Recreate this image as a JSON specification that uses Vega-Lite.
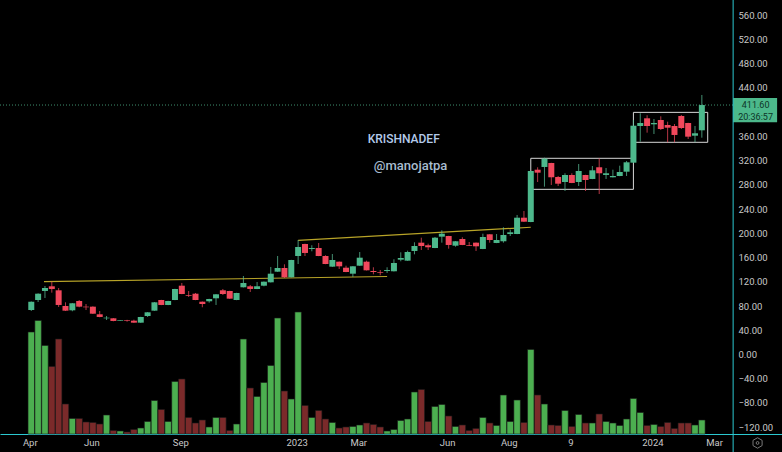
{"$schema":"https://vega.github.io/schema/vega-lite/v6.json","width":782,"height":434,"autosize":"none","padding":{"left":0,"top":0,"right":0,"bottom":18},"background":"#000000","config":{"view":{"stroke":null},"font":"Roboto"},
"datasets":{"w":[
{"date":"2022-04-04","open":73.4,"high":87.5,"low":71.8,"close":87.1,"vol":102},
{"date":"2022-04-11","open":89.9,"high":100.8,"low":86.6,"close":100.3,"vol":113.5},
{"date":"2022-04-18","open":104.8,"high":113,"low":93.2,"close":109.7,"vol":88.5},
{"date":"2022-04-25","open":112.5,"high":120.1,"low":102,"close":108.1,"vol":67.5},
{"date":"2022-05-02","open":105.9,"high":109.7,"low":78.4,"close":81.7,"vol":95},
{"date":"2022-05-09","open":80,"high":86.1,"low":71.8,"close":72.3,"vol":30},
{"date":"2022-05-16","open":72.9,"high":85,"low":71.3,"close":84.5,"vol":15.5},
{"date":"2022-05-23","open":88.3,"high":89.9,"low":77.9,"close":78.9,"vol":15.5},
{"date":"2022-05-30","open":78.9,"high":83.3,"low":73.4,"close":77.9,"vol":12},
{"date":"2022-06-06","open":78.9,"high":79.5,"low":66.8,"close":67.3,"vol":11.5},
{"date":"2022-06-13","open":66.3,"high":71.8,"low":61.4,"close":61.9,"vol":10},
{"date":"2022-06-20","open":59.7,"high":63.5,"low":56.9,"close":60.7,"vol":19},
{"date":"2022-06-27","open":59.7,"high":60.2,"low":54.8,"close":55.3,"vol":3.5},
{"date":"2022-07-04","open":55.8,"high":56.9,"low":55.8,"close":56.9,"vol":3},
{"date":"2022-07-11","open":56.9,"high":57.2,"low":54.1,"close":55.8,"vol":2},
{"date":"2022-07-18","open":55.8,"high":57.4,"low":52.2,"close":52.5,"vol":4.5},
{"date":"2022-07-25","open":52.5,"high":62.2,"low":52.2,"close":61.9,"vol":6},
{"date":"2022-08-01","open":63.5,"high":70,"low":61.9,"close":69.6,"vol":12.5},
{"date":"2022-08-08","open":72.3,"high":86.6,"low":72,"close":86.1,"vol":33.5},
{"date":"2022-08-15","open":89.9,"high":90.2,"low":81.4,"close":81.7,"vol":24.5},
{"date":"2022-08-22","open":81.7,"high":88.6,"low":81.4,"close":88.3,"vol":12.5},
{"date":"2022-08-29","open":89.9,"high":108.4,"low":89.6,"close":108.1,"vol":52.5},
{"date":"2022-09-05","open":113.5,"high":118,"low":99.5,"close":99.8,"vol":55},
{"date":"2022-09-12","open":97.7,"high":104.8,"low":94.9,"close":96.5,"vol":16.5},
{"date":"2022-09-19","open":100.3,"high":101.5,"low":89.6,"close":89.9,"vol":11},
{"date":"2022-09-26","open":87.1,"high":87.4,"low":77.9,"close":83.3,"vol":14},
{"date":"2022-10-03","open":87.8,"high":91.9,"low":85.5,"close":91.6,"vol":7},
{"date":"2022-10-10","open":92.7,"high":99.6,"low":81.7,"close":99.3,"vol":16.5},
{"date":"2022-10-17","open":105.9,"high":108.1,"low":98.2,"close":99.8,"vol":16.5},
{"date":"2022-10-24","open":104.8,"high":105.1,"low":91.8,"close":92.1,"vol":3.5},
{"date":"2022-10-31","open":89.9,"high":101.8,"low":89.6,"close":101.5,"vol":10},
{"date":"2022-11-07","open":110.9,"high":129.5,"low":110.6,"close":118,"vol":95},
{"date":"2022-11-14","open":112.5,"high":114.7,"low":103.1,"close":108.1,"vol":46},
{"date":"2022-11-21","open":108.1,"high":119.6,"low":107.8,"close":112.5,"vol":37.5},
{"date":"2022-11-28","open":113.5,"high":120.4,"low":112.5,"close":120.1,"vol":51.5},
{"date":"2022-12-05","open":119.1,"high":144.4,"low":118.8,"close":133.3,"vol":68.5},
{"date":"2022-12-12","open":136.6,"high":162.5,"low":136.3,"close":142.7,"vol":116},
{"date":"2022-12-19","open":142.7,"high":148.8,"low":126.2,"close":127.4,"vol":43},
{"date":"2022-12-26","open":127.4,"high":156.2,"low":127.1,"close":155.9,"vol":35},
{"date":"2023-01-02","open":162.5,"high":188.9,"low":149.3,"close":177.4,"vol":122},
{"date":"2023-01-09","open":182.3,"high":182.8,"low":162.5,"close":167.5,"vol":28.5},
{"date":"2023-01-16","open":174.1,"high":180.2,"low":170.3,"close":175.7,"vol":16.5},
{"date":"2023-01-23","open":175.7,"high":184,"low":162.2,"close":162.5,"vol":23.5},
{"date":"2023-01-30","open":162.5,"high":163.7,"low":149,"close":149.3,"vol":15},
{"date":"2023-02-06","open":144.9,"high":165.8,"low":144.6,"close":155.9,"vol":11.5},
{"date":"2023-02-13","open":153.1,"high":153.4,"low":141.1,"close":145.5,"vol":6},
{"date":"2023-02-20","open":143.2,"high":146.5,"low":135.8,"close":136.1,"vol":7},
{"date":"2023-02-27","open":133.3,"high":145.8,"low":127.9,"close":145.5,"vol":7.5},
{"date":"2023-03-06","open":146.5,"high":169.1,"low":146.2,"close":159.7,"vol":9},
{"date":"2023-03-13","open":153.1,"high":154.8,"low":138.6,"close":138.9,"vol":11},
{"date":"2023-03-20","open":137.8,"high":143.9,"low":132.3,"close":136.1,"vol":9.5},
{"date":"2023-03-27","open":136.1,"high":139.4,"low":130.7,"close":135,"vol":7},
{"date":"2023-04-03","open":137.8,"high":143.9,"low":134.5,"close":139.4,"vol":3},
{"date":"2023-04-10","open":137.3,"high":157.1,"low":137,"close":151,"vol":4.5},
{"date":"2023-04-17","open":156.4,"high":168.6,"low":153.8,"close":159.2,"vol":13.5},
{"date":"2023-04-24","open":154.8,"high":171.3,"low":154.5,"close":169.1,"vol":15},
{"date":"2023-05-01","open":170.8,"high":185.1,"low":165.3,"close":179,"vol":42},
{"date":"2023-05-08","open":184.5,"high":192.7,"low":172.4,"close":179,"vol":44.5},
{"date":"2023-05-15","open":180.2,"high":182.8,"low":172.4,"close":176.9,"vol":12.5},
{"date":"2023-05-22","open":175.7,"high":193.9,"low":175.4,"close":192.7,"vol":27.5},
{"date":"2023-05-29","open":194.4,"high":204.9,"low":184.5,"close":199.3,"vol":29.5},
{"date":"2023-06-05","open":195.5,"high":195.8,"low":174.6,"close":180.7,"vol":18},
{"date":"2023-06-12","open":179.5,"high":187.1,"low":177.9,"close":186.8,"vol":7.5},
{"date":"2023-06-19","open":190.6,"high":193.4,"low":180.4,"close":180.7,"vol":9},
{"date":"2023-06-26","open":180.7,"high":185.6,"low":179,"close":179.5,"vol":3.5},
{"date":"2023-07-03","open":184.5,"high":184.8,"low":170.8,"close":178.5,"vol":5.5},
{"date":"2023-07-10","open":174.1,"high":199.3,"low":173.8,"close":193.9,"vol":16.5},
{"date":"2023-07-17","open":198.3,"high":198.6,"low":184.5,"close":188.9,"vol":11},
{"date":"2023-07-24","open":184,"high":198.8,"low":183.7,"close":188.9,"vol":8.5},
{"date":"2023-07-31","open":186.8,"high":209.9,"low":184.5,"close":197.2,"vol":39},
{"date":"2023-08-07","open":198.8,"high":205.9,"low":195.5,"close":201.6,"vol":12.5},
{"date":"2023-08-14","open":198.8,"high":230.2,"low":198.5,"close":225.7,"vol":34},
{"date":"2023-08-21","open":225.7,"high":236.8,"low":218.6,"close":219.1,"vol":11.5},
{"date":"2023-08-28","open":218.6,"high":303,"low":218.3,"close":302.8,"vol":84.5},
{"date":"2023-09-04","open":304.9,"high":308.9,"low":284.6,"close":300,"vol":39},
{"date":"2023-09-11","open":309.4,"high":324.7,"low":276.9,"close":323.1,"vol":30},
{"date":"2023-09-18","open":316,"high":316.3,"low":279.7,"close":292.4,"vol":9},
{"date":"2023-09-25","open":292.9,"high":294.5,"low":278,"close":281.8,"vol":8.5},
{"date":"2023-10-02","open":284.6,"high":299,"low":269.8,"close":296.2,"vol":23.5},
{"date":"2023-10-09","open":296.2,"high":299,"low":282.7,"close":283,"vol":7.5},
{"date":"2023-10-16","open":284.6,"high":314.3,"low":278,"close":302.8,"vol":19.5},
{"date":"2023-10-23","open":296.2,"high":296.5,"low":269.8,"close":287.9,"vol":11},
{"date":"2023-10-30","open":289.6,"high":311,"low":289.3,"close":303.9,"vol":11},
{"date":"2023-11-06","open":308.9,"high":323.7,"low":264.8,"close":299,"vol":20},
{"date":"2023-11-13","open":296.2,"high":307.7,"low":289.6,"close":299,"vol":12.5},
{"date":"2023-11-20","open":292.4,"high":304.9,"low":292.1,"close":294.5,"vol":11},
{"date":"2023-11-27","open":294.5,"high":311.5,"low":294.2,"close":301.1,"vol":8.5},
{"date":"2023-12-04","open":301.6,"high":319.3,"low":294.5,"close":317.1,"vol":15},
{"date":"2023-12-11","open":316.5,"high":386.9,"low":316,"close":377.5,"vol":35.5},
{"date":"2023-12-18","open":377,"high":398,"low":351.1,"close":382,"vol":21.5},
{"date":"2023-12-25","open":389.7,"high":394.7,"low":366,"close":377,"vol":8.5},
{"date":"2024-01-01","open":379.8,"high":388.6,"low":363.8,"close":382,"vol":9.5},
{"date":"2024-01-08","open":386.9,"high":393,"low":370.4,"close":372,"vol":7.5},
{"date":"2024-01-15","open":378.7,"high":384.1,"low":350.1,"close":374.2,"vol":11.5},
{"date":"2024-01-22","open":377,"high":380.3,"low":350.1,"close":362.2,"vol":5.5},
{"date":"2024-01-29","open":393.5,"high":395.2,"low":372,"close":373.7,"vol":11},
{"date":"2024-02-05","open":382,"high":382.3,"low":355.6,"close":359.4,"vol":11},
{"date":"2024-02-12","open":361,"high":377,"low":350.1,"close":365,"vol":9},
{"date":"2024-02-19","open":369.9,"high":428.2,"low":357.7,"close":411.6,"vol":14}
],
"trend":[
{"line":"a","date":"2022-04-17","price":120.1},
{"line":"a","date":"2023-04-03","price":128.7},
{"line":"b","date":"2023-01-02","price":188.4},
{"line":"b","date":"2023-08-28","price":209.9}],
"boxes":[
{"date":"2023-08-28","date2":"2023-12-11","top":323.7,"bottom":272.5},
{"date":"2023-12-11","date2":"2024-02-25","top":399.5,"bottom":350.1}]},
"encoding":{"x":{"field":"date","type":"temporal","scale":{"type":"utc","nice":false,"padding":0,"domain":["2022-03-03","2024-05-11"]},
"axis":{"title":null,"grid":false,"ticks":false,"domainColor":"#2bc8d0","domainWidth":1,"labelColor":"#c8c8c8","labelFontSize":9.5,"labelFont":"Roboto","labelPadding":3,"labelOffset":-1.5,"labelFlush":false,"labelOverlap":false,"values":["2022-04-04","2022-06-06","2022-09-05","2023-01-02","2023-03-06","2023-06-05","2023-08-07","2023-10-09","2024-01-01","2024-03-04"],
"labelExpr":"utcmonth(datum.value)==0?utcFormat(datum.value,'%Y'):utcmonth(datum.value)==9?'9':utcFormat(datum.value,'%b')"}},
"y":{"field":"price","type":"quantitative","scale":{"domain":[-131.2,584.9],"nice":false,"zero":false},"axis":null}},
"resolve":{"scale":{"y":"independent"}},
"layer":[
{"data":{"name":"w"},"mark":{"type":"bar","width":6.5,"strokeWidth":0.6,"stroke":"#1a1a1a"},
"encoding":{"y":{"field":"vol","type":"quantitative","scale":{"domain":[0,434],"nice":false},"axis":null},
"color":{"condition":{"test":"datum.close>=datum.open","value":"#4caf50"},"value":"#7b2a2a"}}},
{"data":{"values":[{"date":"2022-03-03","date2":"2024-03-22","price":411.6}]},"mark":{"type":"rule","color":"#3f8f6e","strokeDash":[1,2],"strokeWidth":1},"encoding":{"x2":{"field":"date2"},
"y":{"field":"price","type":"quantitative","scale":{"domain":[-131.2,584.9],"nice":false,"zero":false},
"axis":{"orient":"right","offset":-49,"title":null,"grid":false,"ticks":false,"domain":false,"labelColor":"#c8c8c8","labelFontSize":9.5,"labelFont":"Roboto","labelPadding":5,"labelFlush":false,"labelOverlap":false,"format":".2f","values":[-120,-80,-40,0,40,80,120,160,200,240,280,320,360,440,480,520,560]}}}},
{"data":{"name":"trend"},"mark":{"type":"line","color":"#b8a428","strokeWidth":1.2},"encoding":{"detail":{"field":"line"}}},
{"data":{"name":"boxes"},"mark":{"type":"rect","filled":false,"stroke":"#d8d8d8","strokeWidth":1},"encoding":{"x2":{"field":"date2"},"y":{"field":"top","type":"quantitative","scale":{"domain":[-131.2,584.9],"nice":false,"zero":false},"axis":null},"y2":{"field":"bottom"}}},
{"data":{"name":"w"},"mark":{"type":"rule","strokeWidth":1,"opacity":0.75},"encoding":{"y":{"field":"low","type":"quantitative","scale":{"domain":[-131.2,584.9],"nice":false,"zero":false},"axis":null},"y2":{"field":"high"},"color":{"condition":{"test":"datum.close>=datum.open","value":"#5bbd97"},"value":"#f0485c"}}},
{"data":{"name":"w"},"mark":{"type":"bar","width":6},"encoding":{"y":{"field":"open","type":"quantitative","scale":{"domain":[-131.2,584.9],"nice":false,"zero":false},"axis":null},"y2":{"field":"close"},"color":{"condition":{"test":"datum.close>=datum.open","value":"#4db88c"},"value":"#f0485c"}}},
{"data":{"values":[{"date":"2023-04-20","price":355.6,"label":"KRISHNADEF"}]},"mark":{"type":"text","color":"#b4cbea","fontSize":12,"fontWeight":500,"font":"Roboto"},"encoding":{"text":{"field":"label"}}},
{"data":{"values":[{"date":"2023-04-27","price":311,"label":"@manojatpa"}]},"mark":{"type":"text","color":"#a8bccf","fontSize":13,"fontWeight":500,"font":"Roboto"},"encoding":{"text":{"field":"label"}}},
{"data":{"values":[{"date":"2024-03-22","date2":"2024-05-06","top":423.2,"bottom":383.1}]},"mark":{"type":"rect","color":"#4cb88b"},"encoding":{"x2":{"field":"date2"},"y":{"field":"top","type":"quantitative","scale":{"domain":[-131.2,584.9],"nice":false,"zero":false},"axis":null},"y2":{"field":"bottom"}}},
{"data":{"values":[{"date":"2024-04-14","price":412,"label":"411.60"},{"date":"2024-04-14","price":392,"label":"20:36:57"}]},"mark":{"type":"text","color":"#0c3527","fontSize":9,"font":"Roboto"},"encoding":{"text":{"field":"label"}}},
{"data":{"values":[{"date":"2024-03-22","top":584.9,"bottom":-161}]},"mark":{"type":"rule","color":"#2bc8d0","strokeWidth":1},"encoding":{"y":{"field":"top","type":"quantitative","scale":{"domain":[-131.2,584.9],"nice":false,"zero":false},"axis":null},"y2":{"field":"bottom"}}},
{"data":{"values":[{"date":"2024-04-16","price":-146}]},"mark":{"type":"point","shape":"M0,-1L0.87,-0.5L0.87,0.5L0,1L-0.87,0.5L-0.87,-0.5Z","size":110,"filled":false,"stroke":"#aaaaaa","strokeWidth":1}},
{"data":{"values":[{"date":"2024-04-16","price":-146}]},"mark":{"type":"point","shape":"circle","size":8,"filled":false,"stroke":"#aaaaaa","strokeWidth":1}}
]}
